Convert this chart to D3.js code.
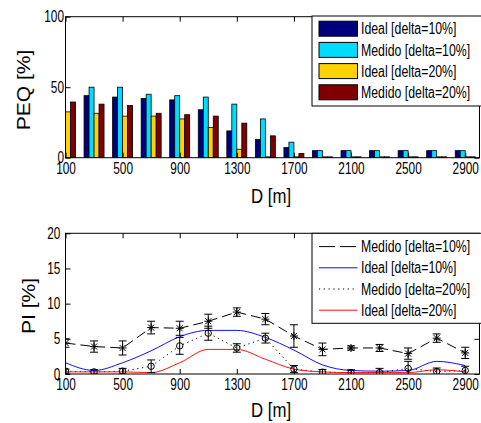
<!DOCTYPE html>
<html><head><meta charset="utf-8">
<script src="https://cdn.jsdelivr.net/npm/d3@7"></script>
<style>body{margin:0;background:#fff}svg{display:block}</style>
</head><body><svg id="c" width="481" height="423"></svg>
<script>
// ---------- data ----------
const distances = [100,300,500,700,900,1100,1300,1500,1700,1900,2100,2300,2500,2700,2900];
const xTicks = [100,500,900,1300,1700,2100,2500,2900];
const barSeries = ["Ideal [delta=10%]","Medido [delta=10%]","Ideal [delta=20%]","Medido [delta=20%]"];
const peqIdeal10  = [45, 44, 43, 42, 41, 34, 19, 13, 7.2, 5, 5, 5, 5, 5, 5];
const peqMedido10 = [50, 50, 50, 45, 44, 43, 38, 27.5, 11, 5, 5, 5, 5, 5, 5];
const peqIdeal20  = [32.5, 31.5, 29.5, 29.5, 27.5, 21.5, 6, 0.6, 0.6, 0.6, 0.6, 0.6, 0.6, 0.6, 0.6];
const peqMedido20 = [39.5, 38, 37, 31.5, 30.5, 29.5, 24.5, 15.5, 3, 0.6, 0.6, 0.6, 0.6, 0.6, 0.6];
const peqTicks = [0, 50, 100];

const lineSeries = ["Medido [delta=10%]","Ideal [delta=10%]","Medido [delta=20%]","Ideal [delta=20%]"];
const piMedido10    = [4.4, 3.9, 3.7, 6.6, 6.5, 7.5, 8.8, 7.8, 5.4, 3.5, 3.7, 3.7, 2.9, 5.1, 3.0];
const piMedido10Err = [0.6, 0.8, 1.0, 0.9, 1.0, 1.0, 0.6, 0.8, 1.6, 0.9, 0.3, 0.5, 0.8, 0.6, 0.8];
const piIdeal10     = [1.6, 0.5, 1.6, 3.3, 5.3, 6.2, 6.2, 5.2, 3.4, 1.3, 0.5, 0.4, 0.5, 1.8, 1.2];
const piMedido20    = [0.4, 0.3, 0.4, 1.1, 4.0, 5.8, 3.7, 5.1, 0.7, 0.25, 0.2, 0.2, 0.8, 0.35, 0.5];
const piMedido20Err = [0.3, 0.3, 0.4, 0.9, 1.2, 1.0, 0.6, 0.7, 0.5, 0.4, 0.4, 0.6, 1.0, 0.5, 0.6];
const piIdeal20     = [0.3, 0.3, 0.3, 0.2, 1.6, 3.5, 3.5, 2.1, 0.7, 0.3, 0.2, 0.2, 0.2, 0.6, 0.3];
const piTicks = [0, 5, 10, 15, 20];

// ---------- setup ----------
const FONT = "'Liberation Sans', Arial, Helvetica, sans-serif";
const svg = d3.select("#c");
svg.append("rect").attr("width",481).attr("height",423).attr("fill","#fff");

const x = d3.scaleLinear().domain([100, 3000]).range([65.5, 479.5]);
const yTop = d3.scaleLinear().domain([0, 100]).range([157.7, 16.7]);
const yBot = d3.scaleLinear().domain([0, 20]).range([374, 233.3]);

const barColors = ["#00007f", "#00dcff", "#ffd200", "#7f0000"];
const BW = 35; // bar width in data units

function label(g, px, py, str, size, anchor, sx, rot) {
  const t = g.append("text")
    .attr("transform", `translate(${px},${py}) scale(${sx},1)` + (rot ? ` rotate(${rot})` : ""))
    .attr("text-anchor", anchor)
    .attr("font-family", FONT)
    .attr("font-size", size)
    .attr("fill", "#000")
    .text(str);
  return t;
}

function frame(g, yScale, ticksY, tickPadLeft, ydec) {
  const r = x.range(), rr = yScale.range();
  // bottom axis with labels
  const axB = g.append("g").attr("transform", `translate(0,${rr[0]})`)
    .call(d3.axisBottom(x).tickValues(xTicks).tickSizeInner(-5).tickSizeOuter(0).tickPadding(4.5).tickFormat(d3.format("d")));
  axB.selectAll("text").attr("transform","scale(0.74,1)").attr("font-size",16).attr("font-family",FONT).attr("fill","#000");
  // top axis ticks
  g.append("g").attr("transform", `translate(0,${rr[1]})`)
    .call(d3.axisTop(x).tickValues(xTicks).tickSizeInner(-5).tickSizeOuter(0).tickFormat(""));
  // left axis
  const axL = g.append("g").attr("transform", `translate(${r[0]},0)`)
    .call(d3.axisLeft(yScale).tickValues(ticksY).tickSizeInner(-5).tickSizeOuter(0).tickPadding(tickPadLeft).tickFormat(d3.format("d")));
  axL.selectAll("text").attr("transform","scale(0.74,1)").attr("font-size",16).attr("font-family",FONT).attr("fill","#000");
  // right axis ticks
  g.append("g").attr("transform", `translate(${r[1]},0)`)
    .call(d3.axisRight(yScale).tickValues(ticksY).tickSizeInner(-5).tickSizeOuter(0).tickFormat(""));
  g.selectAll(".domain").remove();
  g.selectAll(".tick line").attr("stroke","#000");
  g.append("rect").attr("x", r[0]).attr("y", rr[1]).attr("width", r[1]-r[0]).attr("height", rr[0]-rr[1])
    .attr("fill","none").attr("stroke","#000").attr("stroke-width",1);
}

// ---------- top chart ----------
const gT = svg.append("g");
svg.append("clipPath").attr("id","clipT").append("rect")
  .attr("x", x.range()[0]).attr("y", yTop.range()[1]).attr("width", x.range()[1]-x.range()[0]).attr("height", yTop.range()[0]-yTop.range()[1]);
const barData = [peqIdeal10, peqMedido10, peqIdeal20, peqMedido20];
const bars = [];
barData.forEach((arr, si) => arr.forEach((v, gi) => bars.push({si, d: distances[gi], v})));
gT.append("g").attr("clip-path","url(#clipT)").selectAll("rect").data(bars).join("rect")
  .attr("x", b => x(b.d + (b.si - 2) * BW))
  .attr("width", b => x(b.d + (b.si - 1) * BW) - x(b.d + (b.si - 2) * BW))
  .attr("y", b => yTop(b.v))
  .attr("height", b => yTop(0) - yTop(b.v))
  .attr("fill", b => barColors[b.si])
  .attr("stroke", "#000").attr("stroke-width", 0.8);
frame(gT, yTop, peqTicks, 2);
label(gT, 30, 90, "PEQ [%]", 21, "middle", 0.88, -90);
label(gT, 271, 203, "D [m]", 21, "middle", 0.8);

// legend top
const lgT = gT.append("g");
lgT.append("rect").attr("x", 312).attr("y", 16).attr("width", 172).attr("height", 90)
  .attr("fill","#fff").attr("stroke","#000").attr("stroke-width",1);
barSeries.forEach((name, i) => {
  const cy = 28.7 + i * 21.2;
  lgT.append("rect").attr("x", 319).attr("y", cy - 7.5).attr("width", 38.5).attr("height", 15)
    .attr("fill", barColors[i]).attr("stroke","#000").attr("stroke-width",1);
  label(lgT, 361, cy + 5.6, name, 16, "start", 0.77);
});

// ---------- bottom chart ----------
const gB = svg.append("g");
svg.append("clipPath").attr("id","clipB").append("rect")
  .attr("x", x.range()[0]).attr("y", yBot.range()[1]).attr("width", x.range()[1]-x.range()[0]).attr("height", yBot.range()[0]-yBot.range()[1]);
const plotB = gB.append("g").attr("clip-path","url(#clipB)");
const lineGen = d3.line().x((d, i) => x(distances[i])).y(d => yBot(d));
const smoothGen = d3.line().x((d, i) => x(distances[i])).y(d => yBot(d)).curve(d3.curveMonotoneX);

const lineStyles = [
  {data: piMedido10, err: piMedido10Err, color: "#000", dash: "10,5", gen: lineGen, marker: "star"},
  {data: piIdeal10, color: "#1010ff", dash: null, gen: smoothGen},
  {data: piMedido20, err: piMedido20Err, color: "#000", dash: "1.2,3.6", gen: lineGen, marker: "circle"},
  {data: piIdeal20, color: "#ff1010", dash: null, gen: smoothGen}
];
lineStyles.forEach(s => {
  plotB.append("path").attr("d", s.gen(s.data)).attr("fill","none")
    .attr("stroke", s.color).attr("stroke-width", 1).attr("stroke-dasharray", s.dash);
});
lineStyles.filter(s => s.err).forEach(s => {
  const pts = s.data.map((v, i) => ({d: distances[i], v, e: s.err[i]}));
  const g = plotB.append("g").attr("stroke","#000").attr("stroke-width",1).attr("fill","none");
  g.selectAll("path.eb").data(pts).join("path").attr("class","eb")
    .attr("d", p => {
      const cx = x(p.d), y1 = yBot(p.v - p.e), y2 = yBot(p.v + p.e);
      return `M${cx},${y1}V${y2}M${cx-4},${y1}H${cx+4}M${cx-4},${y2}H${cx+4}`;
    });
  if (s.marker === "star") {
    g.selectAll("path.mk").data(pts).join("path").attr("class","mk")
      .attr("d", p => { const cx = x(p.d), cy = yBot(p.v);
        return `M${cx-4},${cy}H${cx+4}M${cx},${cy-4}V${cy+4}M${cx-3},${cy-3}L${cx+3},${cy+3}M${cx-3},${cy+3}L${cx+3},${cy-3}`; });
  } else {
    g.selectAll("circle.mk").data(pts).join("circle").attr("class","mk")
      .attr("cx", p => x(p.d)).attr("cy", p => yBot(p.v)).attr("r", 3.2);
  }
});
frame(gB, yBot, piTicks, 7);
label(gB, 35, 306, "PI [%]", 21, "middle", 0.88, -90);
label(gB, 271, 417, "D [m]", 21, "middle", 0.8);

// legend bottom
const lgB = gB.append("g");
lgB.append("rect").attr("x", 312).attr("y", 233.3).attr("width", 172).attr("height", 90)
  .attr("fill","#fff").attr("stroke","#000").attr("stroke-width",1);
const legendDash = ["16,5", null, "1.2,3.6", null];
lineSeries.forEach((name, i) => {
  const cy = 246.6 + i * 21.2;
  lgB.append("line").attr("x1", 319).attr("x2", 357.5).attr("y1", cy).attr("y2", cy)
    .attr("stroke", lineStyles[i].color).attr("stroke-width", 1).attr("stroke-dasharray", legendDash[i]);
  label(lgB, 361, cy + 5.6, name, 16, "start", 0.77);
});
</script>
</body></html>
